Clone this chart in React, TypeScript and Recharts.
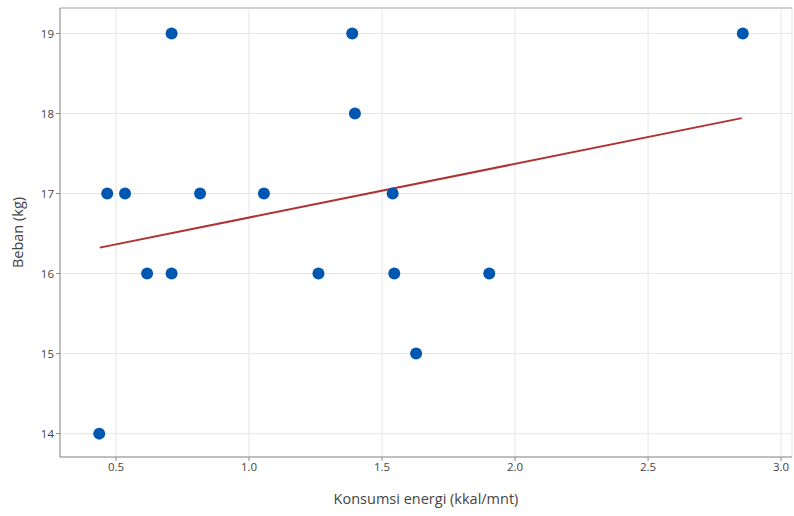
import { ComposedChart, Scatter, Line, XAxis, YAxis, CartesianGrid, ReferenceLine, Label } from 'recharts';

// Konsumsi energi (kkal/mnt) vs Beban (kg)
const energi = [0.437, 0.467, 0.534, 0.617, 0.709, 0.709, 0.816, 1.056, 1.261, 1.388, 1.398, 1.54, 1.546, 1.628, 1.903, 2.856];
const beban = [14, 17, 17, 16, 19, 16, 17, 17, 16, 19, 18, 17, 16, 15, 16, 19];

// regression line end points
const trendX = [0.439, 2.852];
const trendY = [16.324, 17.942];

const xTicks = [0.5, 1.0, 1.5, 2.0, 2.5, 3.0];
const yTicks = [14, 15, 16, 17, 18, 19];
const xDomain = [0.2895, 3.041];
const yDomain = [13.708, 19.318];

const points = energi.map((x, i) => ({ x, y: beban[i] }));
const trend = trendX.map((x, i) => ({ x, y: trendY[i] }));

const FONT = '"Open Sans", "Noto Sans", sans-serif';

const Dot = (props: any) => <circle cx={props.cx} cy={props.cy} r={6} fill="#0057b2" />;

export default function App() {
  return (
    <div style={{ position: 'absolute', left: 0, top: 0, fontFamily: FONT }}>
      <ComposedChart width={794} height={516} margin={{ top: 8, right: 2, left: 0, bottom: 0 }}>
        <CartesianGrid stroke="#e6e6e6" strokeWidth={1} />
        <XAxis
          type="number"
          dataKey="x"
          domain={xDomain}
          ticks={xTicks}
          allowDataOverflow
          tickFormatter={(v) => v.toFixed(1)}
          height={59}
          stroke="#8a8a8a"
          tickSize={4}
          tick={{ fontSize: 11.5, fill: '#444', fontFamily: FONT }}
        >
          <Label value="Konsumsi energi (kkal/mnt)" position="insideBottom" offset={12} style={{ fontSize: 14.5, fill: '#444', fontFamily: FONT }} />
        </XAxis>
        <YAxis
          type="number"
          dataKey="y"
          domain={yDomain}
          ticks={yTicks}
          allowDataOverflow
          width={60}
          stroke="#8a8a8a"
          tickSize={4}
          tick={{ fontSize: 11.5, fill: '#444', fontFamily: FONT }}
        >
          <Label value="Beban (kg)" angle={-90} position="insideLeft" offset={18} style={{ textAnchor: 'middle', fontSize: 14.5, fill: '#444', fontFamily: FONT }} />
        </YAxis>
        <ReferenceLine y={yDomain[1]} stroke="#cfcfcf" strokeWidth={2} />
        <Line data={trend} dataKey="y" stroke="#b03333" strokeWidth={2} dot={false} isAnimationActive={false} />
        <Scatter data={points} dataKey="y" shape={Dot} isAnimationActive={false} />
      </ComposedChart>
    </div>
  );
}
